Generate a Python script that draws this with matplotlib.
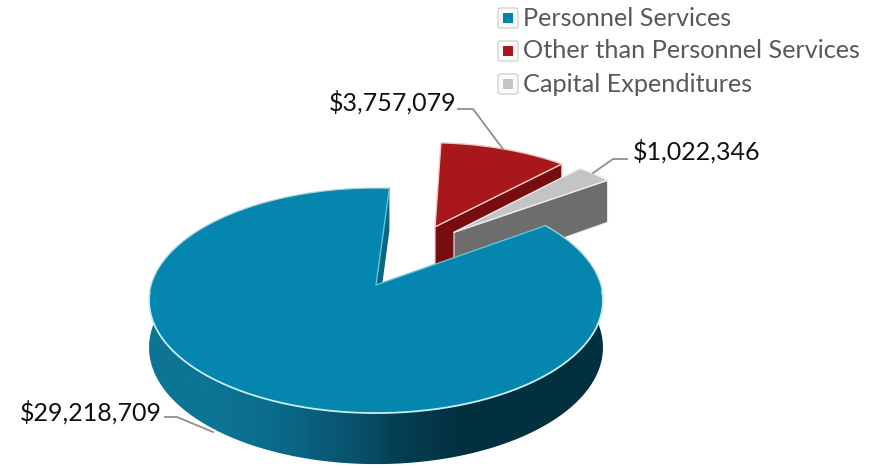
import numpy as np
import matplotlib
matplotlib.use("Agg")
import matplotlib.pyplot as plt
from matplotlib.colors import LinearSegmentedColormap
from matplotlib.patches import FancyBboxPatch, Rectangle, Polygon

categories = ["Personnel Services", "Other than Personnel Services", "Capital Expenditures"]
values = [29218709, 3757079, 1022346]

top_colors = ["#0586ae", "#a8171b", "#c4c4c4"]
wall_colors = [None, "#780d0f", "#6d6d6d"]
edge_colors = ["#bfe9f2", "#f0c8c8", "#ececec"]
marker_colors = ["#0083ab", "#a8171b", "#c4c4c4"]

# explosion of each slice: (distance, direction in degrees)
explode = [(0.0, 0.0), (0.635, 26.5), (0.632, 36.0)]
START = 54.5

# projection of the pie plane onto pixels
CX, CY, R, S, K = 376.0, 285.0, 224.8, 110.4, 0.138
D, K2 = 46.3, 0.0926


def project(u, v, depth=False):
    u, v = np.asarray(u, float), np.asarray(v, float)
    w = 1 + K * v
    x = CX + R * u / w
    y = CY - S * v / w
    if depth:
        y = y + D / (1 + K2 * v)
    return x, y


def slice_points(a0, a1, off, n=240):
    th = np.radians(np.linspace(a0, a1, n))
    ox = off[0] * np.sin(np.radians(off[1]))
    oy = off[0] * np.cos(np.radians(off[1]))
    return ox, oy, ox + np.sin(th), oy + np.cos(th)


fig = plt.figure(figsize=(8.77, 4.68), dpi=100, facecolor="white")
ax = fig.add_axes([0, 0, 1, 1])
ax.axis("off")

total = sum(values)
spans = [360.0 * v / total for v in values]
bounds = []
a = START
for sp in spans:
    bounds.append((a, a + sp))
    a += sp


def poly(xs, ys, fc, z, ec="none", lw=0):
    ax.fill(xs, ys, facecolor=fc, edgecolor=ec, linewidth=lw, zorder=z, joinstyle="round")


# main slice: radial sliver at the notch
a0, a1 = bounds[0]
ox, oy, us, vs = slice_points(a0, a1, explode[0])
x0, y0 = project(ox, oy)
x0d, y0d = project(ox, oy, True)
xe, ye = project(us[-1], vs[-1])
xed, yed = project(us[-1], vs[-1], True)
poly([x0, xe, xed, x0d], [y0, ye, yed, y0d], "#0a6685", 1)

# exploded slices
for i, z in ((1, 2), (2, 4)):
    a0, a1 = bounds[i]
    a0_n, a1_n = a0 % 360, (a0 % 360) + spans[i]
    ox, oy, us, vs = slice_points(a0_n, a1_n, explode[i])
    x0, y0 = project(ox, oy)
    x0d, y0d = project(ox, oy, True)
    xr, yr = project(us, vs)
    xe, ye = xr[-1], yr[-1]
    xed, yed = project(us[-1], vs[-1], True)
    poly([x0, xe, xed, x0d], [y0, ye, yed, y0d], wall_colors[i], z, ec=edge_colors[i], lw=0.8)
    poly(np.r_[x0, xr], np.r_[y0, yr], top_colors[i], z + 1, ec=edge_colors[i], lw=1.0)

# main slice outer wall, shaded along its width
a0, a1 = bounds[0]
ox, oy, us, vs = slice_points(a0, a1, explode[0], n=500)
xt, yt = project(us, vs)
xb, yb = project(us, vs, True)
wall_map = LinearSegmentedColormap.from_list(
    "wall",
    [(0.0, "#0d7494"), (0.16, "#0d7494"), (0.29, "#0a6a8a"), (0.466, "#075069"),
     (0.55, "#053f53"), (0.69, "#03303f"), (1.0, "#03303f")],
)
mask = vs <= 0.1
wall_xy = np.r_[np.c_[xt[mask], yt[mask]], np.c_[xb[mask], yb[mask]][::-1]]
clip = Polygon(wall_xy, closed=True, facecolor="none", edgecolor="none", transform=ax.transData)
ax.add_patch(clip)
img = ax.imshow(np.linspace(0, 1, 512).reshape(1, -1), cmap=wall_map, vmin=0, vmax=1,
                extent=(148, 603, 500, 280), aspect="auto", zorder=6, interpolation="bilinear")
img.set_clip_path(clip)

# main slice top
x0, y0 = project(ox, oy)
poly(np.r_[x0, xt], np.r_[y0, yt], top_colors[0], 7)
ax.plot(np.where(vs >= -0.1, xt, np.nan), np.where(vs >= -0.1, yt, np.nan), color="#b4d4dd", lw=0.9, zorder=8)
front = vs < -0.05
ax.plot(xt[front], yt[front], color="#c8edf5", lw=1.3, zorder=8, solid_capstyle="butt")
ax.plot([xt[0], x0, xt[-1]], [yt[0], y0, yt[-1]], color="#5cc3de", lw=1.0, zorder=8)

# leader lines
leaders = [
    ([165, 177, 213], [417, 417, 432]),
    ([458, 473, 503], [109, 109, 149]),
    ([627, 613, 593], [159, 159, 173]),
]
for lx, ly in leaders:
    ax.plot(lx, ly, color="#8f8f8f", lw=1.3, zorder=9)

# value labels
font = "Lato"
label_pos = [(20, 412), (329, 102), (633, 151)]
for v, (lx, ly) in zip(values, label_pos):
    ax.text(lx, ly, f"${v:,}", fontsize=18, family=font, color="#111111", va="center", ha="left", zorder=10)

# legend
legend_y = [18, 51, 84]
for name, c, ly in zip(categories, marker_colors, legend_y):
    ax.add_patch(FancyBboxPatch((498, ly - 10), 20, 20, boxstyle="round,pad=0,rounding_size=2",
                                facecolor="#fbfbfb", edgecolor="#d4d4d4", linewidth=1.0, zorder=10))
    ax.add_patch(Rectangle((503, ly - 5), 10, 10, facecolor=c, edgecolor="none", zorder=11))
    ax.text(523, ly, name, fontsize=18.2, family=font, color="#595959", va="center", ha="left", zorder=10)

ax.set_xlim(0, 877)
ax.set_ylim(468, 0)
ax.set_aspect("auto")
fig.savefig("out.png", dpi=100, facecolor="white")
